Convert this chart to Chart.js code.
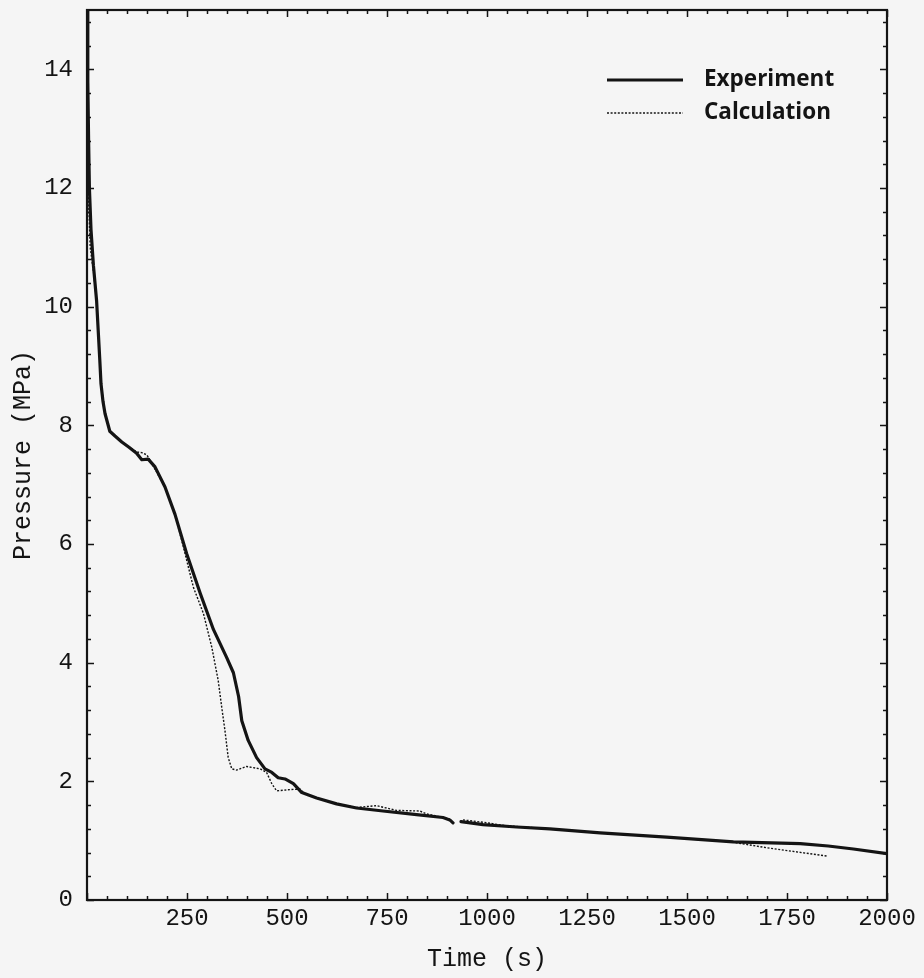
<!DOCTYPE html>
<html>
<head>
<meta charset="utf-8">
<script src="https://cdn.jsdelivr.net/npm/chart.js@4.4.1/dist/chart.umd.min.js"></script>
<style>
  html, body { margin: 0; padding: 0; background: #f5f5f5; }
  #wrap { width: 924px; height: 978px; }
</style>
</head>
<body>
<div id="wrap"><canvas id="chart" width="924" height="978"></canvas></div>
<script>
// measured pressure (MPa) against time (s)
var expTime = [0, 2, 4, 6, 10, 16, 24, 28, 32, 35, 40, 45, 57, 70, 87, 105, 124, 137, 153, 170,
  195, 220, 249, 283, 316, 349, 366, 379, 387, 403, 424, 445, 462, 478, 495, 516, 537, 574,
  624, 674, 740, 824, 890, 907, 915, 925, 935, 990, 1074, 1157, 1283, 1449, 1616, 1783, 1853,
  1916, 2000];
var expPressure = [15.0, 13.8, 12.8, 12.0, 11.3, 10.7, 10.1, 9.6, 9.1, 8.7, 8.4, 8.2, 7.9, 7.82,
  7.72, 7.63, 7.53, 7.42, 7.43, 7.30, 6.96, 6.50, 5.84, 5.17, 4.56, 4.09, 3.83, 3.43, 3.02,
  2.69, 2.40, 2.21, 2.15, 2.06, 2.04, 1.96, 1.81, 1.72, 1.62, 1.55, 1.50, 1.44, 1.39, 1.35,
  1.30, null, 1.32, 1.27, 1.23, 1.20, 1.13, 1.06, 0.98, 0.95, 0.91, 0.86, 0.78];

// calculated pressure (MPa) against time (s)
var calcTime = [0, 2, 4, 8, 16, 24, 28, 35, 45, 57, 87, 124, 137, 150, 165, 195, 220, 241, 266,
  291, 312, 328, 337, 345, 353, 362, 374, 399, 433, 449, 462, 474, 507, 532, 545, 574, 624,
  674, 724, 774, 832, 849, 890, 910, 925, 940, 990, 1050, 1157, 1283, 1449, 1600, 1700, 1850];
var calcPressure = [15.0, 13.2, 11.8, 11.0, 10.6, 10.1, 9.6, 8.7, 8.2, 7.9, 7.72, 7.55, 7.54,
  7.50, 7.32, 6.96, 6.50, 5.95, 5.27, 4.83, 4.26, 3.70, 3.24, 2.85, 2.40, 2.21, 2.19, 2.25,
  2.21, 2.15, 1.96, 1.84, 1.86, 1.87, 1.79, 1.72, 1.62, 1.56, 1.59, 1.51, 1.50, 1.45, 1.39,
  1.36, null, 1.35, 1.31, 1.25, 1.20, 1.13, 1.06, 0.99, 0.88, 0.74];

var xTicks = [250, 500, 750, 1000, 1250, 1500, 1750, 2000];
var yTicks = [0, 2, 4, 6, 8, 10, 12, 14];

var ink = '#141414';
var monoFont = '"Liberation Mono", "DejaVu Sans Mono", monospace';

var toPoints = function(xs, ys) {
  return xs.map(function(x, i) { return {x: x, y: ys[i]}; });
};

// paper background, boxed frame with inward ticks, legend inside the plot
var framePlugin = {
  id: 'frame',
  beforeDraw: function(chart) {
    var ctx = chart.ctx;
    ctx.save();
    ctx.fillStyle = '#f5f5f5';
    ctx.fillRect(0, 0, chart.width, chart.height);
    ctx.restore();
  },
  afterDatasetsDraw: function(chart) {
    var ctx = chart.ctx, a = chart.chartArea;
    var xs = chart.scales.x, ys = chart.scales.y;
    var v, p, len;
    ctx.save();
    ctx.strokeStyle = ink;
    ctx.lineWidth = 1.5;
    ctx.beginPath();
    for (v = 0; v <= 2000; v += 50) {
      p = Math.round(xs.getPixelForValue(v)) + 0.5;
      len = v % 250 === 0 ? 7 : 4;
      ctx.moveTo(p, a.bottom); ctx.lineTo(p, a.bottom - len);
      ctx.moveTo(p, a.top); ctx.lineTo(p, a.top + len);
    }
    for (v = 0; v <= 150; v += 4) {
      p = Math.round(ys.getPixelForValue(v / 10)) + 0.5;
      len = v % 20 === 0 ? 7 : 4;
      ctx.moveTo(a.left, p); ctx.lineTo(a.left + len, p);
      ctx.moveTo(a.right, p); ctx.lineTo(a.right - len, p);
    }
    ctx.stroke();
    ctx.lineWidth = 2.2;
    ctx.strokeRect(a.left, a.top, a.right - a.left, a.bottom - a.top);
    ctx.restore();
  },
  afterDraw: function(chart) {
    var ctx = chart.ctx;
    var rows = [80, 113];
    ctx.save();
    ctx.font = '700 22.5px "Open Sans", "Liberation Sans", sans-serif';
    ctx.textBaseline = 'middle';
    ctx.fillStyle = ink;
    chart.data.datasets.forEach(function(ds, i) {
      ctx.strokeStyle = ds.borderColor;
      ctx.lineWidth = ds.borderWidth;
      ctx.setLineDash(ds.borderDash || []);
      ctx.beginPath();
      ctx.moveTo(607, rows[i]);
      ctx.lineTo(683, rows[i]);
      ctx.stroke();
      ctx.fillText(ds.label, 704, rows[i]);
    });
    ctx.restore();
  }
};

new Chart(document.getElementById('chart'), {
  type: 'line',
  data: {
    datasets: [{
      label: 'Experiment',
      data: toPoints(expTime, expPressure),
      borderColor: ink,
      borderWidth: 3.2,
      pointRadius: 0,
      borderJoinStyle: 'round',
      borderCapStyle: 'round'
    }, {
      label: 'Calculation',
      data: toPoints(calcTime, calcPressure),
      borderColor: ink,
      borderWidth: 1.4,
      borderDash: [2, 1.6],
      pointRadius: 0
    }]
  },
  options: {
    responsive: false,
    animation: false,
    layout: { padding: { top: 10, right: 37, left: 0, bottom: 0 } },
    plugins: { legend: { display: false }, tooltip: { enabled: false } },
    scales: {
      x: {
        type: 'linear',
        min: 0,
        max: 2000,
        grid: { display: false, drawTicks: false },
        border: { display: false },
        afterBuildTicks: function(scale) {
          scale.ticks = xTicks.map(function(v) { return {value: v}; });
        },
        afterFit: function(scale) {
          scale.height = 78;
          scale.paddingLeft = 0;
          scale.paddingRight = 0;
        },
        ticks: {
          autoSkip: false,
          maxRotation: 0,
          padding: 4,
          color: ink,
          font: { family: monoFont, size: 24 },
          callback: function(v) { return String(v); }
        },
        title: {
          display: true,
          text: 'Time (s)',
          color: ink,
          font: { family: monoFont, size: 25 },
          padding: { top: 0, bottom: 4 }
        }
      },
      y: {
        min: 0,
        max: 15,
        grid: { display: false, drawTicks: false },
        border: { display: false },
        afterBuildTicks: function(scale) {
          scale.ticks = yTicks.map(function(v) { return {value: v}; });
        },
        afterFit: function(scale) {
          scale.width = 87;
          scale.paddingTop = 0;
          scale.paddingBottom = 0;
        },
        ticks: {
          padding: 14,
          color: ink,
          font: { family: monoFont, size: 24 },
          callback: function(v) { return String(v); }
        },
        title: {
          display: true,
          text: 'Pressure (MPa)',
          color: ink,
          font: { family: monoFont, size: 25 },
          padding: { top: 8, bottom: 0 }
        }
      }
    }
  },
  plugins: [framePlugin]
});
</script>
</body>
</html>
